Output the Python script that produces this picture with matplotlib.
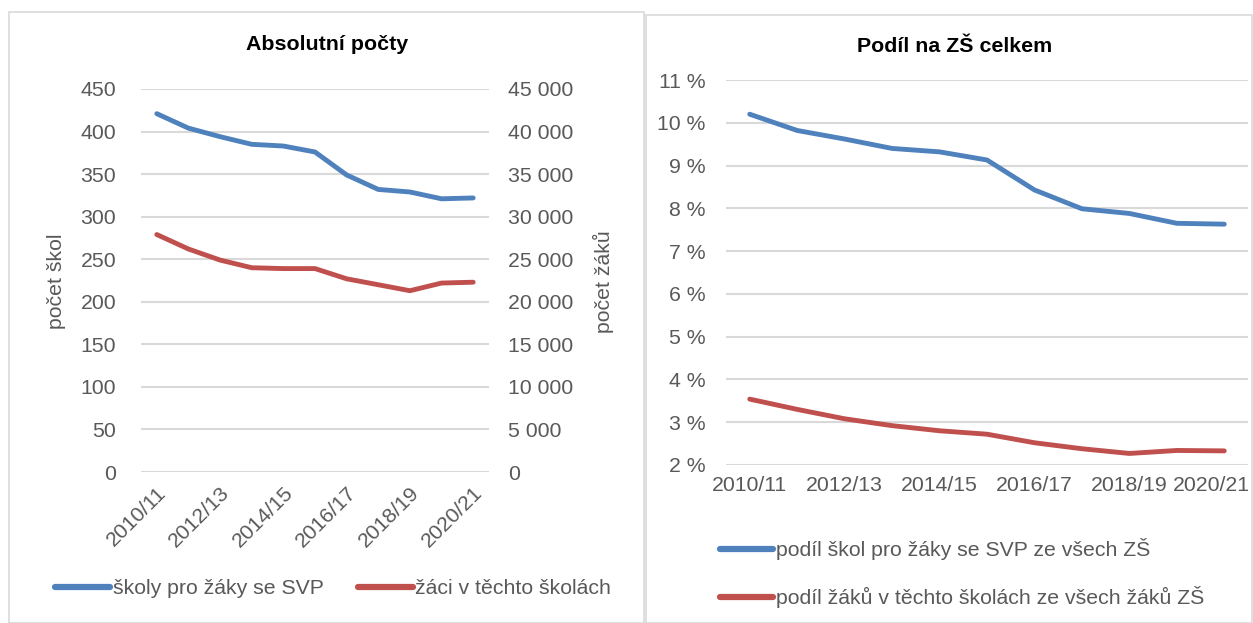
import matplotlib
matplotlib.use("Agg")
import matplotlib.pyplot as plt
import matplotlib.transforms as mtransforms
from matplotlib.patches import Rectangle
from matplotlib.lines import Line2D
from matplotlib.ticker import FuncFormatter

plt.rcParams['font.family'] = ['Liberation Sans', 'DejaVu Sans']

years = ["2010/11", "2011/12", "2012/13", "2013/14", "2014/15", "2015/16",
         "2016/17", "2017/18", "2018/19", "2019/20", "2020/21"]
schools = [421, 404, 394, 385, 383, 376, 349, 332, 329, 321, 322]
pupils = [27900, 26200, 24900, 24000, 23900, 23900, 22700, 22000, 21300, 22200, 22300]
share_schools = [10.2, 9.82, 9.62, 9.40, 9.32, 9.13, 8.43, 7.99, 7.88, 7.65, 7.63]
share_pupils = [3.54, 3.30, 3.08, 2.92, 2.80, 2.72, 2.52, 2.38, 2.27, 2.34, 2.33]

BLUE = "#4f81bd"
RED = "#c0504d"
GRID = "#d9d9d9"
TXT = "#595959"
FS = 15.3
LW = 3.5
W, H = 1253, 623

fig = plt.figure(figsize=(W / 100, H / 100), dpi=100)

def fx(px):
    return px / W

def fy(py):
    return 1 - py / H

# panel borders
fig.patches.append(Rectangle((fx(9), fy(623)), fx(644 - 9), fy(12) - fy(623),
                             transform=fig.transFigure, fill=False, edgecolor=GRID, lw=1.2))
fig.patches.append(Rectangle((fx(646), fy(623)), fx(1252 - 646), fy(15) - fy(623),
                             transform=fig.transFigure, fill=False, edgecolor=GRID, lw=1.2))

x = list(range(len(years)))

def style(ax):
    for s in ax.spines.values():
        s.set_visible(False)
    ax.tick_params(length=0, labelsize=FS, colors=TXT)
    ax.grid(axis='y', color=GRID, lw=1.5)
    ax.set_axisbelow(True)
    ax.set_xlim(-0.5, len(years) - 0.5)

# ---------- left panel ----------
ax1 = fig.add_axes([fx(141), fy(472), fx(489 - 141), fy(89) - fy(472)])
style(ax1)
ax1.set_ylim(0, 450)
ax1.set_yticks(range(0, 451, 50))
ax1.tick_params(axis='y', pad=18)
ax1.plot(x, schools, color=BLUE, lw=LW, solid_capstyle='round')
ax1.set_xticks(x[::2])
ax1.set_xticklabels(years[::2], rotation=45, ha='right', rotation_mode='anchor')
ax1.tick_params(axis='x', pad=8)

ax2 = ax1.twinx()
for s in ax2.spines.values():
    s.set_visible(False)
ax2.set_ylim(0, 45000)
ax2.set_yticks(range(0, 45001, 5000))
ax2.yaxis.set_major_formatter(FuncFormatter(lambda v, p: f"{int(v):,}".replace(",", " ")))
ax2.tick_params(length=0, labelsize=FS, colors=TXT, pad=14)
ax2.plot(x, pupils, color=RED, lw=LW, solid_capstyle='round')

fig.text(fx(57), fy(281), "počet škol", rotation=90, ha='center', va='center',
         fontsize=FS, color=TXT)
fig.text(fx(603), fy(282), "počet žáků", rotation=90, ha='center', va='center',
         fontsize=FS, color=TXT)

fig.text(fx(327), fy(45), "Absolutní počty", ha='center', va='center',
         fontsize=15.4, fontweight='bold', color='black')

fig.legend([Line2D([], [], color=BLUE, lw=4.5, solid_capstyle='round'),
            Line2D([], [], color=RED, lw=4.5, solid_capstyle='round')],
           ["školy pro žáky se SVP", "žáci v těchto školách"],
           loc='center left', bbox_to_anchor=(fx(55), fy(589)), ncol=2, frameon=False,
           fontsize=FS, handlelength=2.6, handletextpad=0.12, columnspacing=1.6,
           labelcolor=TXT, borderpad=0, borderaxespad=0)

# ---------- right panel ----------
ax3 = fig.add_axes([fx(726), fy(465), fx(1248 - 726), fy(80) - fy(465)])
style(ax3)
ax3.set_ylim(2, 11)
ax3.set_yticks(range(2, 12))
ax3.yaxis.set_major_formatter(FuncFormatter(lambda v, p: f"{int(v)} %"))
ax3.tick_params(axis='y', pad=15)
ax3.plot(x, share_schools, color=BLUE, lw=LW, solid_capstyle='round')
ax3.plot(x, share_pupils, color=RED, lw=LW, solid_capstyle='round')
ax3.set_xticks(x[::2])
ax3.set_xticklabels(years[::2])
ax3.tick_params(axis='x', pad=8)
last = ax3.get_xticklabels()[-1]
last.set_transform(last.get_transform() +
                   mtransforms.ScaledTranslation(-12.5 / 100, 0, fig.dpi_scale_trans))

fig.text(fx(955), fy(47), "Podíl na ZŠ celkem", ha='center', va='center',
         fontsize=15.4, fontweight='bold', color='black')

fig.legend([Line2D([], [], color=BLUE, lw=4.5, solid_capstyle='round'),
            Line2D([], [], color=RED, lw=4.5, solid_capstyle='round')],
           ["podíl škol pro žáky se SVP ze všech ZŠ",
            "podíl žáků v těchto školách ze všech žáků ZŠ"],
           loc='center left', bbox_to_anchor=(fx(720), fy(573)), ncol=1, frameon=False,
           fontsize=FS, handlelength=2.5, handletextpad=0.12, labelspacing=1.22,
           labelcolor=TXT, borderpad=0, borderaxespad=0)

fig.savefig("out.png", dpi=100)
